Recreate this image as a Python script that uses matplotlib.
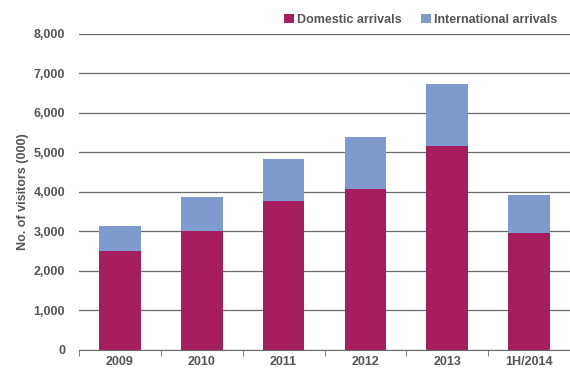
import matplotlib.pyplot as plt
import numpy as np

plt.rcParams['font.family'] = ['Liberation Sans', 'DejaVu Sans']

# Datos (miles de visitantes)
categorias = ["2009", "2010", "2011", "2012", "2013", "1H/2014"]
domesticos = [2490, 3000, 3760, 4080, 5150, 2950]
totales = [3130, 3860, 4840, 5400, 6740, 3920]
internacionales = [t - d for t, d in zip(totales, domesticos)]

COLOR_DOM = "#A61E5E"
COLOR_INT = "#7F9ACC"
GRIS = "#555555"

fig = plt.figure(figsize=(5.7, 3.72), dpi=100)
ax = fig.add_axes([79 / 570, 1 - 349.5 / 372, 491 / 570, (349.5 - 34) / 372])

x = np.arange(len(categorias))
ax.bar(x, domesticos, width=0.51, color=COLOR_DOM, label="Domestic arrivals", zorder=3)
ax.bar(x, internacionales, width=0.51, bottom=domesticos, color=COLOR_INT,
       label="International arrivals", zorder=3)

ax.set_xlim(-0.5, len(categorias) - 0.5)
ax.set_ylim(0, 8000)
ax.set_yticks(np.arange(0, 8001, 1000))
ax.set_yticklabels([f"{v:,}" for v in range(0, 8001, 1000)])
ax.yaxis.grid(True, color="#6b6b6b", linewidth=0.9, zorder=0)
ax.set_xticks(x)
ax.set_xticklabels(categorias)
ax.set_xticks(np.arange(-0.5, len(categorias) - 0.5, 1), minor=True)
ax.tick_params(axis="x", which="major", length=0, pad=5)
ax.tick_params(axis="x", which="minor", length=4, color="#6b6b6b")
ax.tick_params(axis="y", length=0, pad=10)

for lbl in ax.get_xticklabels() + ax.get_yticklabels():
    lbl.set_fontsize(9)
    lbl.set_fontweight("bold")
    lbl.set_color(GRIS)

for s in ["top", "right", "left"]:
    ax.spines[s].set_visible(False)
ax.spines["bottom"].set_color("#6b6b6b")

ax.set_ylabel("No. of visitors (000)", fontsize=9, fontweight="bold", color=GRIS, labelpad=3)

leg = ax.legend(loc="lower right", bbox_to_anchor=(0.985, 1.01), ncol=2, frameon=False,
                fontsize=9, handlelength=0.8, handleheight=0.8, handletextpad=0.3,
                columnspacing=1.5, borderaxespad=0)
for t in leg.get_texts():
    t.set_color(GRIS)
    t.set_fontweight("bold")

fig.savefig("out.png", dpi=100)
